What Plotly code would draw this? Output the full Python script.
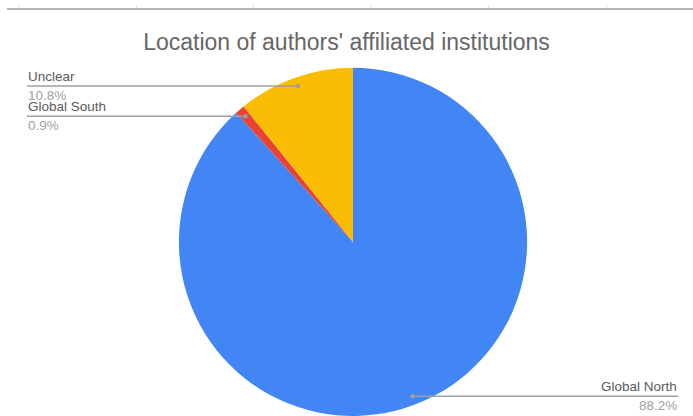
import math
import plotly.graph_objects as go

labels = ["Global North", "Global South", "Unclear"]
values = [88.2, 0.9, 10.8]
colors = ["#4285F4", "#EA4335", "#FBBC04"]
title = "Location of authors' affiliated institutions"

W, H = 693, 416
FONT = "Liberation Sans, Arial, sans-serif"

# pie geometry (pixels)
dom_x = [(353 - 175) / W, (353 + 175) / W]
dom_y = [0, 0.837]
cx = (dom_x[0] + dom_x[1]) / 2 * W
cy = H - (dom_y[0] + dom_y[1]) / 2 * H
r = min((dom_x[1] - dom_x[0]) * W, (dom_y[1] - dom_y[0]) * H) / 2

fig = go.Figure()
fig.add_trace(go.Pie(
    labels=labels, values=values, sort=False, direction="clockwise", rotation=0,
    marker=dict(colors=colors, line=dict(width=0)),
    textinfo="none", hoverinfo="label+percent", domain=dict(x=dom_x, y=dom_y),
    showlegend=False,
))

shapes = []
annotations = []
total = sum(values)
cum = 0
for lab, v in zip(labels, values):
    frac = v / total
    th = 2 * math.pi * (cum + frac / 2)
    cum += frac
    px = cx + 0.95 * r * math.sin(th)
    py = cy - 0.95 * r * math.cos(th)
    left = math.sin(th) < 0
    x_end = 27 if left else 678
    shapes.append(dict(type="line", xref="x", yref="y", x0=x_end, x1=px, y0=py, y1=py,
                       line=dict(color="#9e9e9e", width=1.5), layer="above"))
    shapes.append(dict(type="circle", xref="x", yref="y", x0=px - 2.2, x1=px + 2.2,
                       y0=py - 2.2, y1=py + 2.2, fillcolor="#9e9e9e",
                       line=dict(width=0), layer="above"))
    anchor = "left" if left else "right"
    annotations.append(dict(x=x_end, y=py - 1, xref="x", yref="y", text=lab,
                            showarrow=False, xanchor=anchor, yanchor="bottom",
                            height=14, valign="bottom",
                            font=dict(family=FONT, size=13.5, color="#5a5a5a"), borderpad=0))
    annotations.append(dict(x=x_end, y=py + 1, xref="x", yref="y", text=f"{v}%",
                            showarrow=False, xanchor=anchor, yanchor="top",
                            height=14, valign="top",
                            font=dict(family=FONT, size=13.5, color="#a0a0a0"), borderpad=0))

fig.update_layout(
    width=W, height=H,
    margin=dict(l=0, r=0, t=0, b=0),
    paper_bgcolor="white", plot_bgcolor="rgba(0,0,0,0)",
    title=dict(text=title, x=0.5, xanchor="center", y=1 - 42 / H, yanchor="middle",
               font=dict(family=FONT, size=23, color="#666666")),
    xaxis=dict(domain=[7 / W, 1], range=[7, W], side="top", showline=True,
               linecolor="#b4b4b4", linewidth=2, showgrid=False, zeroline=False,
               ticks="outside", tick0=19, dtick=117.4, ticklen=3, tickcolor="#dddddd",
               showticklabels=False, fixedrange=True),
    yaxis=dict(domain=[0, 1 - 9.5 / H], range=[H, 9.5], showline=False, showgrid=False,
               zeroline=False, showticklabels=False, fixedrange=True),
    shapes=shapes, annotations=annotations,
)

fig.write_html("out.html", config={"displayModeBar": False},
               post_script="document.body.style.margin='0';")
